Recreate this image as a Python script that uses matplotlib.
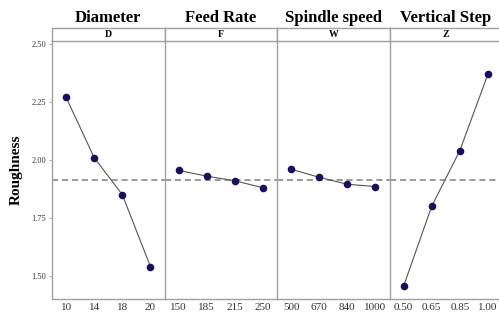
import numpy as np
from matplotlib import pyplot as plt

# main effects data
titles = ["Diameter", "Feed Rate", "Spindle speed", "Vertical Step"]
strips = ["D", "F", "W", "Z"]
levels = [["10", "14", "18", "20"],
          ["150", "185", "215", "250"],
          ["500", "670", "840", "1000"],
          ["0.50", "0.65", "0.85", "1.00"]]
diameter = [2.27, 2.01, 1.85, 1.54]
feed_rate = [1.955, 1.93, 1.91, 1.88]
spindle = [1.96, 1.925, 1.895, 1.885]
vstep = [1.455, 1.80, 2.04, 2.37]
series = [diameter, feed_rate, spindle, vstep]
mean_line = 1.915
yticks = [1.50, 1.75, 2.00, 2.25, 2.50]

plt.rcParams['font.family'] = ['Liberation Serif', 'DejaVu Serif']

W, H = 499, 314
fig = plt.figure(figsize=(W / 100, H / 100), dpi=100)
fig.patch.set_facecolor("white")

left = 52
pw = 112.5
bot = 15
top = 273
strip_h = 13
gray = "#a0a0a0"

for i in range(4):
    x0 = (left + i * pw) / W
    ax = fig.add_axes([x0, bot / H, pw / W, (top - bot) / H])
    xs = np.arange(4)
    ax.axhline(mean_line, color="#808080", ls=(0, (4, 2.5)), lw=1.1, zorder=1)
    ax.plot(xs, series[i], color="#555555", lw=0.8, zorder=2)
    ax.scatter(xs, series[i], s=20, color="#17105e", zorder=3)
    ax.set_xlim(-0.5, 3.5)
    ax.set_ylim(1.40, 2.513)
    ax.set_xticks(xs)
    ax.set_xticklabels(levels[i], fontsize=8, color="#333333")
    ax.tick_params(axis="x", length=0, pad=3)
    for s in ax.spines.values():
        s.set_color(gray)
        s.set_linewidth(1.0)
    ax.spines["top"].set_visible(False)
    ax.spines["right"].set_visible(False)
    if i == 0:
        ax.set_yticks(yticks)
        ax.set_yticklabels(["%.2f" % v for v in yticks], fontsize=6, color="#333333")
        ax.tick_params(axis="y", length=2.5, width=0.6, color=gray, pad=1.5)
        ax.set_ylabel("Roughness", fontsize=11, fontweight="bold", labelpad=6)
    else:
        ax.set_yticks([])

    # strip header
    sx = fig.add_axes([x0, top / H, pw / W, strip_h / H])
    sx.set_xticks([])
    sx.set_yticks([])
    for s in sx.spines.values():
        s.set_color(gray)
        s.set_linewidth(1.0)
    sx.text(0.5, 0.5, strips[i], ha="center", va="center", fontsize=7,
            fontweight="bold", transform=sx.transAxes)
    fig.text(x0 + pw / W / 2, 296 / H, titles[i], ha="center", va="center",
             fontsize=12, fontweight="bold")

fig.savefig("out.png", dpi=100)
